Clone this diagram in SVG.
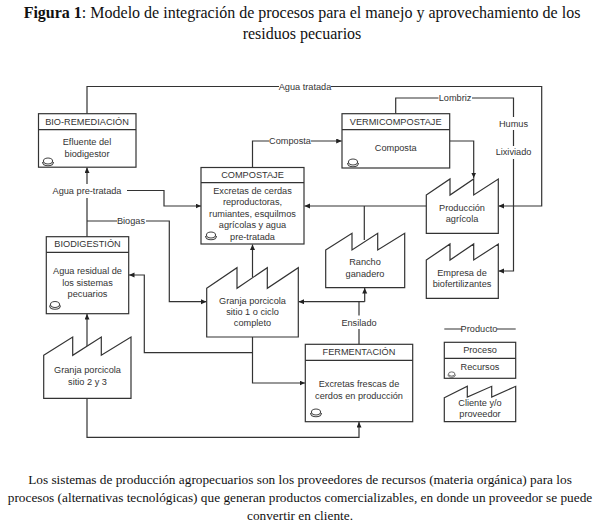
<svg xmlns="http://www.w3.org/2000/svg" width="600" height="528" viewBox="0 0 600 528">
<style>
.s{fill:#fff;stroke:#333;stroke-width:1.2}
.c{fill:none;stroke:#333;stroke-width:1.2}
.i{fill:none;stroke:#444;stroke-width:1.1}
text{font-family:"Liberation Sans",Arial,sans-serif;font-size:9.2px;fill:#333;text-anchor:middle}
.t{font-family:"Liberation Serif","Times New Roman",serif;font-size:16px;fill:#111}
.b{font-family:"Liberation Serif","Times New Roman",serif;font-size:13.3px;fill:#111}
</style>
<defs>
<marker id="a" markerWidth="6" markerHeight="6" refX="5.5" refY="2.5" orient="auto" markerUnits="userSpaceOnUse"><path d="M0 0L5.5 2.5L0 5z" fill="#222"/></marker>
<g id="ic"><ellipse class="i" cx="0" cy="-1" rx="4.6" ry="3"/><path class="i" d="M-5.5 0C-5 5 5 5 5.5 0"/></g>
</defs>
<text class="t" x="302" y="18"><tspan font-weight="bold">Figura 1</tspan>: Modelo de integración de procesos para el manejo y aprovechamiento de los</text>
<text class="t" x="302" y="39">residuos pecuarios</text>
<g id="connectors">
<path class="c" d="M87 114V86.5H279M331 86.5H541.7V206H498.5" marker-end="url(#a)"/>
<path class="c" d="M252.5 167.5V141H269M311 141H341.7" marker-end="url(#a)"/>
<path class="c" d="M395.7 113.7V98H438.5M472 98H513.5V117M513.5 130V146M513.5 159V271H498.5" marker-end="url(#a)"/>
<path class="c" d="M450 141H473.7V178" marker-end="url(#a)"/>
<path class="c" d="M426 206H304.5" marker-end="url(#a)"/>
<path class="c" d="M364.3 206V240"/>
<path class="c" d="M87 237V198M87 184V167.5" marker-end="url(#a)"/>
<path class="c" d="M127 190.5H164V206H201" marker-end="url(#a)"/>
<path class="c" d="M87 221H117M146 221H169.3V301.7H206.5" marker-end="url(#a)"/>
<path class="c" d="M252.5 277V244.5" marker-end="url(#a)"/>
<path class="c" d="M252.5 337V383H305" marker-end="url(#a)"/>
<path class="c" d="M252.5 352.7H144.3V275H129" marker-end="url(#a)"/>
<path class="c" d="M87 346V314" marker-end="url(#a)"/>
<path class="c" d="M87 398V437.3H359V422" marker-end="url(#a)"/>
<path class="c" d="M359 344V329M359 315.5V301.7"/>
<path class="c" d="M364.7 301.7H298.5" marker-end="url(#a)"/>
<path class="c" d="M364.7 301.7V288" marker-end="url(#a)"/>
<path class="c" d="M444.3 329H462M497 329H515.7"/>
</g>
<g id="labels">
<text x="305" y="89.5">Agua tratada</text>
<text x="290" y="144">Composta</text>
<text x="455" y="101">Lombriz</text>
<text x="513.5" y="126.5">Humus</text>
<text x="513.5" y="155">Lixiviado</text>
<text x="87" y="194">Agua pre-tratada</text>
<text x="131" y="224">Biogas</text>
<text x="359" y="325.5">Ensilado</text>
<text x="479" y="331.5">Producto</text>
</g>
<g id="bio-remediacion">
<rect class="s" x="38.5" y="113.7" width="97.5" height="53.5"/><path class="c" d="M38.5 129.7H136"/>
<text x="87" y="124.5">BIO-REMEDIACIÓN</text>
<text x="87" y="145">Efluente del</text><text x="87" y="156.5">biodigestor</text>
<use href="#ic" x="48" y="162"/>
</g>
<g id="vermicompostaje">
<rect class="s" x="342" y="113.7" width="107.7" height="54.3"/><path class="c" d="M342 129.7H449.7"/>
<text x="395.7" y="124.5">VERMICOMPOSTAJE</text>
<text x="395.7" y="151">Composta</text>
<use href="#ic" x="353" y="163"/>
</g>
<g id="compostaje">
<rect class="s" x="201" y="167.5" width="103" height="76.5"/><path class="c" d="M201 182.7H304"/>
<text x="252.5" y="178">COMPOSTAJE</text>
<text x="252.5" y="193.5">Excretas de cerdas</text><text x="252.5" y="205">reproductoras,</text><text x="252.5" y="216.5">rumiantes, esquilmos</text><text x="252.5" y="228">agrícolas y agua</text><text x="252.5" y="239.5">pre-tratada</text>
<use href="#ic" x="211" y="236"/>
</g>
<g id="biodigestion">
<rect class="s" x="46.3" y="236.7" width="82.4" height="77"/><path class="c" d="M46.3 252.3H128.7"/>
<text x="87.5" y="246.5">BIODIGESTIÓN</text>
<text x="87.5" y="274">Agua residual de</text><text x="87.5" y="285.5">los sistemas</text><text x="87.5" y="297">pecuarios</text>
<use href="#ic" x="55" y="305.5"/>
</g>
<g id="produccion-agricola">
<path class="s" d="M426.3 195L450 179V195L473.7 179V195L498.3 179V233.3H426.3z"/>
<text x="462" y="210.5">Producción</text><text x="462" y="221.5">agrícola</text>
</g>
<g id="empresa">
<path class="s" d="M426.3 260L450 244V260L473.7 244V260L498.3 244V298.3H426.3z"/>
<text x="462" y="275.5">Empresa de</text><text x="462" y="287">biofertilizantes</text>
</g>
<g id="rancho">
<path class="s" d="M325.7 250L352 233.3V250L377.7 233.3V250L404.7 233.3V287.7H325.7z"/>
<text x="365" y="265">Rancho</text><text x="365" y="276.5">ganadero</text>
</g>
<g id="granja-1">
<path class="s" d="M206.7 288.3L237 267.7V288.3L267.3 267.7V288.3L298.3 267.7V337H206.7z"/>
<text x="252.5" y="303.5">Granja porcicola</text><text x="252.5" y="315">sitio 1 o ciclo</text><text x="252.5" y="326">completo</text>
</g>
<g id="granja-2">
<path class="s" d="M43.7 355.3L72.7 337V355.3L101.3 337V355.3L131 337V398.3H43.7z"/>
<text x="87.5" y="373">Granja porcicola</text><text x="87.5" y="384.5">sitio 2 y 3</text>
</g>
<g id="fermentacion">
<rect class="s" x="305.3" y="344.3" width="107.4" height="77.4"/><path class="c" d="M305.3 360.3H412.7"/>
<text x="359" y="354.5">FERMENTACIÓN</text>
<text x="359" y="387">Excretas frescas de</text><text x="359" y="398.5">cerdos en producción</text>
<use href="#ic" x="316" y="413"/>
</g>
<g id="legend-proceso">
<rect class="s" x="444.3" y="342.3" width="71.4" height="36"/><path class="c" d="M444.3 358.3H515.7"/>
<text x="480" y="353">Proceso</text><text x="480" y="370">Recursos</text>
<use href="#ic" transform="translate(451.7 374.7) scale(.7)"/>
</g>
<g id="legend-cliente">
<path class="s" d="M444.3 397.7L467.3 386.3V397L491.7 386.3V397L515.7 386.3V421.7H444.3z"/>
<text x="480" y="406">Cliente y/o</text><text x="480" y="417">proveedor</text>
</g>
<g id="caption">
<text class="b" x="300" y="484">Los sistemas de producción agropecuarios son los proveedores de recursos (materia orgánica) para los</text>
<text class="b" x="300" y="502">procesos (alternativas tecnológicas) que generan productos comercializables, en donde un proveedor se puede</text>
<text class="b" x="300" y="520">convertir en cliente.</text>
</g>
</svg>
